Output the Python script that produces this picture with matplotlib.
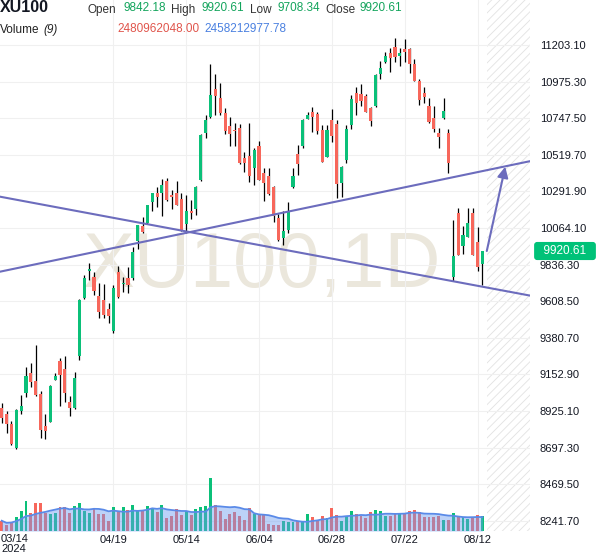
import matplotlib
matplotlib.use("Agg")
import matplotlib.pyplot as plt
import matplotlib.transforms as mtransforms
import numpy as np
import pandas as pd

plt.rcParams["font.family"] = ["Liberation Sans", "DejaVu Sans"]
plt.rcParams["hatch.linewidth"] = 0.6

SYMBOL = "XU100"
INTERVAL = "1D"

# daily OHLC, 03/15 .. 08/13 (2024)
open_ = [8941.5, 8904.2, 8843.8, 8696.3, 8926.6, 9034.9, 9163.1, 9111.5, 9030.5, 8831.3,
         8858.1, 9117.7, 9236.0, 9186.2, 8982.6, 8945.3, 9267.1, 9626.3, 9798.1, 9760.7,
         9642.5, 9615.7, 9559.7, 9422.7, 9791.9, 9713.4, 9754.5, 9750.8, 9984.8, 10076.3,
         10093.2, 10227.6, 10279.9, 10279.9, 10358.3, 10269.3, 10279.9, 10244.4, 10088.8, 10169.7,
         10182.2, 10362.7, 10653.4, 10756.7, 10927.3, 10871.3, 10781.6, 10700.7, 10673.9, 10688.3,
         10501.5, 10514.0, 10435.5, 10576.2, 10404.4, 10389.5, 10321.0, 10128.0, 9999.8, 10051.4,
         10316.0, 10523.3, 10574.3, 10742.4, 10787.9, 10773.5, 10673.9, 10507.7, 10736.2, 10711.3,
         10345.9, 10487.2, 10705.1, 10906.1, 10898.0, 10885.6, 10809.0, 10823.3, 11022.5, 11095.4,
         11151.4, 11192.5, 11136.5, 11178.2, 11178.2, 11082.9, 10980.8, 10906.1, 10823.3, 10750.5,
         10657.1, 10746.8, 10653.4, 9760.7, 10159.1, 9951.8, 10009.7, 10159.1, 9978.6, 9842.18]
high = [8972.7, 8924.7, 8862.5, 8935.3, 9024.3, 9196.8, 9221.7, 9335.6, 9051.1, 8904.2,
        9085.0, 9163.1, 9256.5, 9267.1, 9020.0, 9165.6, 9620.0, 9771.3, 9844.2, 9791.9,
        9721.5, 9713.4, 9595.2, 9709.1, 9827.3, 9760.7, 9819.3, 9947.5, 10085.0, 10134.2,
        10210.0, 10283.6, 10317.3, 10367.1, 10373.3, 10300.4, 10358.3, 10283.6, 10269.3, 10238.2,
        10325.0, 10650.0, 10767.3, 11082.9, 11020.7, 10964.7, 10809.0, 10753.0, 10715.7, 10709.4,
        10538.9, 10715.7, 10560.0, 10605.5, 10435.5, 10439.3, 10325.0, 10149.2, 10169.7, 10227.6,
        10439.3, 10577.5, 10740.0, 10787.9, 10815.3, 10787.9, 10705.1, 10705.1, 10802.8, 10736.2,
        10448.0, 10705.1, 10891.8, 10939.8, 10960.3, 10898.0, 10815.3, 11020.0, 11105.3, 11161.4,
        11182.5, 11244.8, 11182.5, 11238.6, 11182.5, 11114.1, 10991.4, 10939.8, 10871.3, 10823.3,
        10684.5, 10871.3, 10678.3, 10113.7, 10186.5, 10076.3, 10186.5, 10186.5, 10072.0, 9920.61]
low = [8848.2, 8789.6, 8710.0, 8688.2, 8904.2, 9013.7, 9076.0, 9020.0, 8758.5, 8748.6,
       8855.0, 9115.0, 8957.7, 8978.9, 8895.5, 8935.3, 9242.2, 9620.1, 9740.2, 9646.8,
       9503.6, 9501.8, 9470.7, 9412.1, 9630.0, 9667.4, 9657.4, 9740.2, 9931.3, 10030.9,
       10090.0, 10171.6, 10196.5, 10138.6, 10235.0, 10180.3, 10205.0, 10048.0, 10030.9, 10118.1,
       10144.8, 10355.0, 10626.0, 10746.8, 10767.3, 10767.3, 10647.2, 10576.2, 10576.2, 10463.0,
       10410.6, 10352.1, 10331.6, 10360.0, 10233.8, 10270.0, 10103.1, 9983.0, 9958.1, 10030.9,
       10312.0, 10395.1, 10560.0, 10740.0, 10663.4, 10649.0, 10473.0, 10505.0, 10601.1, 10248.8,
       10258.8, 10470.4, 10680.2, 10767.3, 10823.3, 10785.0, 10700.7, 10820.0, 10989.6, 11093.0,
       11036.9, 11099.1, 11072.3, 11099.1, 11030.6, 10978.0, 10829.6, 10843.9, 10719.4, 10663.4,
       10560.0, 10745.0, 10408.1, 9735.8, 9893.0, 9902.0, 10007.0, 9893.0, 9798.1, 9708.34]
close = [8879.3, 8841.9, 8717.4, 8930.9, 8957.7, 9142.6, 9107.1, 9024.3, 8806.4, 8800.2,
         9080.3, 9144.5, 9148.8, 9038.6, 8941.5, 9132.0, 9615.7, 9754.5, 9808.7, 9673.6,
         9541.0, 9522.3, 9518.0, 9692.3, 9636.3, 9723.4, 9709.1, 9916.4, 10082.6, 10040.9,
         10207.1, 10279.9, 10258.8, 10331.6, 10238.2, 10258.8, 10207.1, 10051.4, 10169.7, 10155.4,
         10321.0, 10642.8, 10736.2, 10891.8, 10885.6, 10781.6, 10667.7, 10649.0, 10667.7, 10466.6,
         10466.6, 10389.5, 10549.4, 10362.7, 10342.2, 10273.7, 10138.6, 9989.2, 10045.2, 10165.4,
         10388.8, 10464.2, 10736.2, 10767.3, 10756.7, 10667.7, 10476.6, 10673.9, 10636.6, 10335.9,
         10445.5, 10680.2, 10865.1, 10843.9, 10854.5, 10787.9, 10731.8, 11016.3, 11058.0, 11134.6,
         11124.0, 11130.2, 11155.1, 11161.4, 11082.9, 10980.8, 10860.7, 10881.2, 10725.6, 10680.2,
         10632.2, 10794.1, 10466.6, 9889.6, 9895.8, 10020.3, 10096.9, 9895.8, 9823.0, 9920.61]
# volume in billions
volume = [1.70, 0.99, 1.49, 2.37, 3.31, 4.96, 3.03, 4.68, 4.58, 3.03,
          2.81, 3.03, 4.02, 4.02, 3.03, 4.18, 4.68, 3.36, 2.93, 3.75,
          2.86, 2.86, 1.70, 3.97, 3.36, 3.97, 3.47, 4.35, 3.36, 3.36,
          4.14, 3.75, 3.19, 4.35, 2.20, 2.53, 3.64, 2.65, 3.31, 2.65,
          3.64, 3.97, 4.09, 8.77, 4.25, 3.26, 1.94, 2.76, 3.14, 2.43,
          1.87, 3.85, 2.86, 2.60, 2.76, 1.21, 0.94, 0.94, 1.60, 1.49,
          1.49, 1.65, 1.70, 2.81, 2.27, 1.82, 2.48, 2.10, 3.85, 2.65,
          1.65, 2.48, 3.31, 2.81, 2.53, 2.10, 3.14, 3.47, 3.36, 2.48,
          2.48, 3.03, 3.03, 2.76, 3.31, 3.47, 3.09, 2.27, 2.27, 2.37,
          2.53, 1.82, 1.82, 3.03, 2.37, 2.27, 1.98, 2.37, 2.65, 2.48]
VOL_LAST = 2480962048.00
VOL_MA_LAST = 2458212977.78
MA_LEN = 9

tick_pos = [23, 38, 53, 68, 83, 98]
tick_labels = ["04/19", "05/14", "06/04", "06/28", "07/22", "08/12"]
first_label = "03/14"
year_label = "2024"

price_ticks = [8241.70, 8469.50, 8697.30, 8925.10, 9152.90, 9380.70, 9608.50,
               9836.30, 10064.10, 10291.90, 10519.70, 10747.50, 10975.30, 11203.10]

# drawn trend lines (bar index, price)
trend_down_x = [-0.35, 108.8]
trend_down_y = [10258.8, 9643.1]
trend_up_x = [-0.35, 108.8]
trend_up_y = [9791.9, 10479.8]
arrow_start = (99.9, 9920.7)
arrow_end = (103.7, 10445.5)

UP = "#0bc079"
DOWN = "#f7675b"
LINE = "#6c6cbd"
W, H = 600, 558


def px(x, y):
    return x / W, 1 - y / H


def main():
    fig = plt.figure(figsize=(6, 5.58), dpi=100)
    ax = fig.add_axes([0, 1 - 531 / H, 530 / W, 531 / H])
    ax.set_xlim(-0.35, 108.8)
    ax.set_ylim(8177.6, 11483.2)

    x = np.arange(len(close))
    o = np.array(open_)
    c = np.array(close)
    up = c >= o
    colors = np.where(up, UP, DOWN)

    # watermark
    ax.text(0.494, 0.4595, f"{SYMBOL},{INTERVAL}", transform=ax.transAxes,
            ha="center", va="baseline", fontsize=56, color="#ebe7dc", zorder=0)

    # future (hatched) area
    ax.axvspan(len(close), 108.8, facecolor="none", edgecolor="#e2e2e2",
               hatch="////", lw=0, zorder=0)

    ax.vlines(x, low, high, color="black", lw=0.9, zorder=3)
    ax.bar(x, np.maximum(np.abs(c - o), 6), bottom=np.minimum(o, c), width=0.64,
           color=colors, lw=0, zorder=4)

    ax.plot(trend_down_x, trend_down_y, color=LINE, lw=1.5, zorder=5)
    ax.plot(trend_up_x, trend_up_y, color=LINE, lw=1.5, zorder=5)
    ax.annotate("", xy=arrow_end, xytext=arrow_start,
                arrowprops=dict(arrowstyle="-|>", color=LINE, lw=1.5,
                                mutation_scale=16, shrinkA=0, shrinkB=0), zorder=5)

    for s in ax.spines.values():
        s.set_visible(False)
    ax.grid(True, color="#f0f0f0", lw=0.8, zorder=0)
    ax.set_axisbelow(True)

    # volume overlay
    axv = ax.twinx()
    axv.set_ylim(0, 531 * 0.1654)
    axv.bar(x, volume, width=0.6, color=colors, lw=0, zorder=1)
    ma = pd.Series(volume).rolling(MA_LEN, min_periods=1).mean()
    axv.fill_between(x, 0, ma, color="#6b9cf0", alpha=0.45, lw=0, zorder=2)
    axv.plot(x, ma, color="#5a8ae8", lw=1.3, zorder=3)
    axv.yaxis.set_visible(False)
    for s in axv.spines.values():
        s.set_visible(False)

    # price scale on the right (twinx moves ticks, so set afterwards)
    ax.yaxis.tick_right()
    ax.set_yticks(price_ticks)
    ax.set_yticklabels([f"{p:.2f}" for p in price_ticks])
    ax.tick_params(axis="y", length=0, pad=7, labelsize=8, labelcolor="#131722",
                   labelleft=False, labelright=True)
    ax.set_xticks(tick_pos)
    ax.set_xticklabels(tick_labels)
    ax.tick_params(axis="x", length=0, pad=3, labelsize=8, labelcolor="#131722")

    # last price tag
    tr = mtransforms.blended_transform_factory(ax.transAxes, ax.transData)
    ax.text(565 / 530, close[-1], f"  {close[-1]:.2f}  ", transform=tr,
            ha="center", va="center", fontsize=8.5, color="white",
            bbox=dict(boxstyle="round,pad=0.2", fc="#00c278", ec="#00c278"),
            clip_on=False, zorder=10)

    # date label at the left edge
    fig.text(*px(1, 539), first_label, ha="left", va="center", fontsize=8, color="#131722")
    fig.text(*px(1, 549), year_label, ha="left", va="center", fontsize=8, color="#131722")

    # header
    fig.text(*px(0, 12), SYMBOL, ha="left", va="baseline", fontsize=11.5,
             fontweight="bold", color="#131722")
    green_txt = "#13a45c"
    items = [(88, "Open", None), (124, f"{open_[-1]:.2f}", green_txt),
             (171, "High", None), (201, f"{high[-1]:.2f}", green_txt),
             (250, "Low", None), (277, f"{low[-1]:.2f}", green_txt),
             (325, "Close", None), (360, f"{close[-1]:.2f}", green_txt)]
    for xp, txt, col in items:
        yb = 13 if col is None else 11
        fig.text(*px(xp, yb), txt, ha="left", va="baseline", fontsize=8.5,
                 color=col or "#333333")
    fig.text(*px(0, 33), "Volume", ha="left", va="baseline", fontsize=8.5, color="#222222")
    fig.text(*px(43, 33), "(9)", ha="left", va="baseline", fontsize=8.5,
             style="italic", color="#222222")
    fig.text(*px(117, 32), f"{VOL_LAST:.2f}", ha="left", va="baseline",
             fontsize=8.5, color="#e0554c")
    fig.text(*px(204, 32), f"{VOL_MA_LAST:.2f}", ha="left", va="baseline",
             fontsize=8.5, color="#4a80e0")

    fig.savefig("out.png", dpi=100)
    plt.close(fig)


if __name__ == "__main__":
    main()
